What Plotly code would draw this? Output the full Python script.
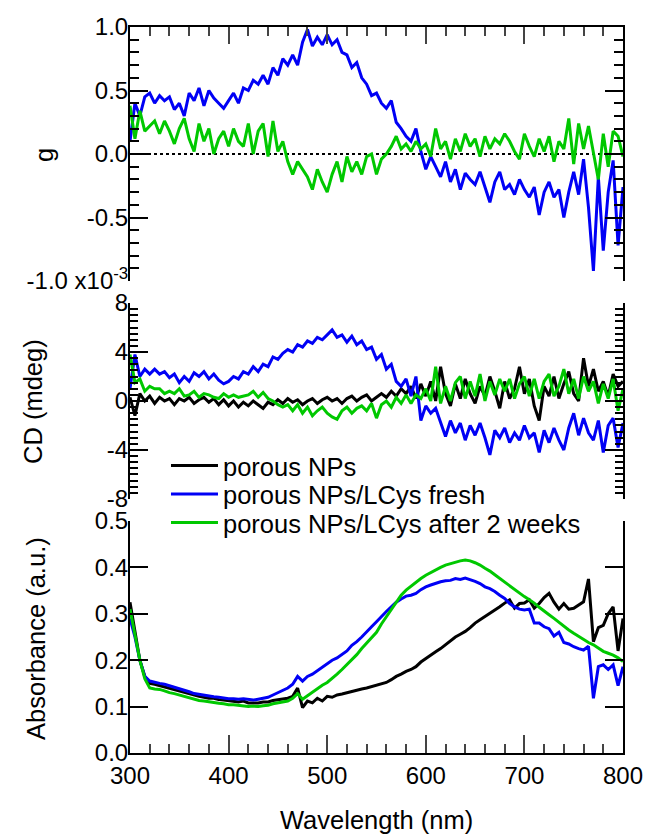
import plotly.graph_objects as go

# ---------------- data ----------------
wavelength = list(range(300, 805, 5))

g_fresh = [0.10, 0.40, 0.30, 0.45, 0.48, 0.40, 0.46, 0.42, 0.45, 0.35,
           0.40, 0.30, 0.48, 0.42, 0.52, 0.38, 0.50, 0.44, 0.40, 0.36,
           0.42, 0.48, 0.40, 0.52, 0.50, 0.58, 0.55, 0.62, 0.55, 0.68,
           0.62, 0.75, 0.70, 0.78, 0.70, 0.88, 0.98, 0.85, 0.92, 0.86,
           0.94, 0.86, 0.90, 0.80, 0.78, 0.68, 0.72, 0.60, 0.55, 0.46,
           0.48, 0.40, 0.36, 0.42, 0.25, 0.20, 0.14, 0.10, 0.20, 0.02,
           -0.12, -0.02, -0.10, -0.18, -0.06, -0.22, -0.12, -0.28, -0.15, -0.20,
           -0.24, -0.14, -0.26, -0.38, -0.22, -0.14, -0.28, -0.24, -0.32, -0.20,
           -0.28, -0.34, -0.26, -0.48, -0.30, -0.22, -0.34, -0.28, -0.50, -0.30,
           -0.14, -0.32, -0.04, -0.42, -0.92, -0.18, -0.76, -0.30, -0.05, -0.72,
           -0.26]

g_2weeks = [0.38, 0.12, 0.34, 0.18, 0.22, 0.26, 0.16, 0.26, 0.18, 0.08,
            0.20, 0.28, 0.12, 0.02, 0.24, 0.10, 0.20, 0.00, 0.12, 0.18,
            0.06, 0.20, 0.10, 0.06, 0.24, 0.00, 0.18, 0.24, -0.02, 0.26,
            0.02, 0.10, -0.06, -0.16, -0.06, -0.12, -0.18, -0.28, -0.12, -0.22,
            -0.30, -0.16, -0.06, -0.22, -0.02, -0.14, -0.06, -0.16, -0.02, 0.00,
            -0.16, -0.04, 0.00, 0.06, 0.14, 0.04, 0.08, 0.02, 0.10, 0.04,
            0.08, -0.02, 0.20, 0.04, 0.10, -0.04, 0.12, 0.02, 0.16, 0.06,
            0.12, -0.02, 0.14, 0.04, 0.12, 0.08, 0.16, 0.10, 0.02, -0.04,
            0.16, 0.06, -0.02, 0.12, 0.02, 0.14, -0.06, 0.10, 0.04, 0.28,
            -0.08, 0.24, 0.04, 0.22, 0.00, -0.20, 0.16, -0.10, 0.18, 0.14,
            -0.02]

cd_np = [0.3, -1.2, 0.6, 0.0, 0.4, -0.2, 0.3, 0.0, 0.2, -0.3,
         0.2, 0.0, 0.3, -0.2, 0.1, 0.3, -0.1, 0.2, -0.3, 0.1,
         -0.4, 0.0, -0.5, -0.1, -0.4, 0.0, -0.3, -0.6, -0.1, -0.3,
         0.1, -0.2, 0.2, -0.1, 0.1, -0.3, 0.0, 0.2, -0.2, 0.1,
         0.3, 0.0, 0.2, -0.2, 0.2, 0.4, 0.0, 0.3, 0.5, 0.0,
         0.3, 0.6, 0.3, 0.8, 0.4, 1.0, 0.6, 1.2, 0.2, 1.4,
         0.4, 1.6, 0.0, 2.8, 0.6, -0.4, 1.4, 0.2, 1.8, 0.6,
         -0.2, 1.2, 0.4, 2.0, 0.8, -0.6, 1.6, 0.2, 1.0, 2.8,
         0.6, 1.8, -0.4, -1.6, 1.2, 0.4, 2.0, 0.2, 1.4, 2.4,
         0.6, 0.0, 3.5, 1.2, 2.6, 0.8, 1.6, 0.4, 2.2, 1.2,
         1.6]

cd_fresh = [1.0, 3.8, 2.0, 2.6, 2.2, 2.6, 2.2, 2.4, 1.9, 2.2,
            1.5, 2.0, 1.6, 2.3, 2.0, 2.4, 1.8, 2.2, 1.7, 1.4,
            1.6, 2.0, 1.8, 2.4, 2.2, 2.8, 2.4, 3.0, 2.8, 3.6,
            3.4, 3.9, 4.2, 4.0, 4.6, 4.4, 4.9, 4.7, 5.2, 5.0,
            5.4, 5.8, 5.2, 5.4, 4.8, 5.3, 4.6, 4.9, 4.2, 4.4,
            3.4, 3.8, 2.6, 3.0, 1.6, 1.2, 1.8, 0.4, 2.0, -1.6,
            -0.4, -1.0, -0.6, -1.8, -2.9, -1.6, -2.6, -1.8, -3.2, -2.0,
            -2.8, -1.8, -3.0, -4.4, -2.4, -3.0, -2.2, -3.4, -2.6, -3.2,
            -2.0, -3.0, -2.6, -4.2, -2.4, -3.4, -2.2, -3.2, -4.0, -2.2,
            -1.0, -2.8, -1.4, -2.6, -3.2, -1.6, -4.2, -2.0, -1.4, -3.8,
            -1.8]

cd_2weeks = [3.8, 1.5, 1.8, 0.8, 1.2, 1.0, 1.0, 0.6, 0.8, 0.6,
             1.0, 0.4, 0.5, 0.8, 0.3, 0.6, 0.5, 0.3, 0.2, 0.6,
             0.3, 0.5, 0.3, 0.4, 0.5, 0.8, 0.3, 0.7, 0.2, 0.0,
             -0.3, -0.5, -0.3, -0.8, -0.3, -1.0, -0.5, -1.2, -0.8, -0.5,
             -1.0, -1.3, -1.5, -0.8, -0.5, -1.0, -0.6, -0.4, -0.8, -0.2,
             -1.4, -0.3, 0.0, -0.5, 0.3, -0.2, 0.5, -0.2, 0.5, 0.2,
             1.0, 0.0, 2.8, -0.2, 1.2, 0.0, 1.5, 2.0, 0.2, 1.6,
             0.4, 2.2, 0.0, 1.6, 0.5, 1.8, 0.8, 1.8, 0.2, 1.4,
             2.0, 0.4, 1.8, 0.2, 1.6, 2.2, 0.4, 1.2, 2.6, 0.6,
             1.8, 0.2, 2.0, 0.8, 1.6, -0.2, 1.4, 0.2, 1.8, -0.8,
             1.0]

abs_np = [0.325, 0.260, 0.200, 0.165, 0.150, 0.148, 0.145, 0.143, 0.140, 0.137,
          0.134, 0.130, 0.128, 0.125, 0.122, 0.120, 0.118, 0.118, 0.115, 0.114,
          0.113, 0.112, 0.110, 0.112, 0.108, 0.108, 0.108, 0.110, 0.110, 0.113,
          0.115, 0.117, 0.118, 0.122, 0.140, 0.098, 0.112, 0.108, 0.118, 0.112,
          0.122, 0.120, 0.125, 0.127, 0.130, 0.132, 0.135, 0.138, 0.140, 0.143,
          0.146, 0.148, 0.152, 0.158, 0.165, 0.170, 0.176, 0.180, 0.186, 0.196,
          0.204, 0.210, 0.218, 0.225, 0.233, 0.242, 0.250, 0.256, 0.262, 0.270,
          0.280, 0.287, 0.294, 0.300, 0.308, 0.315, 0.323, 0.330, 0.312, 0.322,
          0.323, 0.330, 0.312, 0.322, 0.335, 0.344, 0.325, 0.310, 0.322, 0.310,
          0.312, 0.320, 0.326, 0.375, 0.240, 0.270, 0.275, 0.300, 0.315, 0.220,
          0.290]

abs_fresh = [0.290, 0.250, 0.200, 0.165, 0.155, 0.152, 0.150, 0.148, 0.145, 0.142,
             0.138, 0.135, 0.132, 0.128, 0.126, 0.124, 0.122, 0.121, 0.120, 0.118,
             0.117, 0.117, 0.116, 0.117, 0.115, 0.114, 0.116, 0.118, 0.120, 0.125,
             0.130, 0.135, 0.140, 0.148, 0.165, 0.155, 0.165, 0.170, 0.178, 0.186,
             0.192, 0.200, 0.205, 0.212, 0.220, 0.232, 0.240, 0.250, 0.260, 0.272,
             0.283, 0.295, 0.305, 0.315, 0.325, 0.332, 0.338, 0.340, 0.344, 0.352,
             0.358, 0.362, 0.366, 0.369, 0.371, 0.372, 0.376, 0.374, 0.377, 0.374,
             0.370, 0.365, 0.358, 0.354, 0.348, 0.340, 0.333, 0.322, 0.315, 0.310,
             0.308, 0.310, 0.280, 0.280, 0.272, 0.268, 0.252, 0.260, 0.238, 0.235,
             0.229, 0.225, 0.222, 0.230, 0.118, 0.186, 0.190, 0.180, 0.190, 0.145,
             0.186]

abs_2weeks = [0.310, 0.255, 0.200, 0.160, 0.140, 0.138, 0.137, 0.134, 0.130, 0.128,
              0.125, 0.122, 0.120, 0.116, 0.113, 0.112, 0.110, 0.108, 0.107, 0.106,
              0.104, 0.104, 0.103, 0.102, 0.100, 0.101, 0.100, 0.102, 0.103, 0.106,
              0.108, 0.110, 0.112, 0.118, 0.128, 0.116, 0.124, 0.130, 0.140, 0.146,
              0.152, 0.160, 0.170, 0.180, 0.190, 0.200, 0.212, 0.225, 0.236, 0.248,
              0.260, 0.278, 0.294, 0.310, 0.326, 0.340, 0.351, 0.360, 0.369, 0.376,
              0.383, 0.389, 0.394, 0.400, 0.405, 0.408, 0.412, 0.414, 0.416, 0.414,
              0.410, 0.405, 0.398, 0.392, 0.384, 0.376, 0.369, 0.360, 0.351, 0.344,
              0.337, 0.330, 0.323, 0.314, 0.305, 0.298, 0.290, 0.281, 0.272, 0.265,
              0.258, 0.251, 0.244, 0.238, 0.233, 0.226, 0.219, 0.215, 0.211, 0.205,
              0.197]

series_names = ["porous NPs", "porous NPs/LCys fresh", "porous NPs/LCys after 2 weeks"]
g_ticks = [-1.0, -0.5, 0.0, 0.5, 1.0]
g_ticktext = ["-1.0 x10<sup>-3</sup>", "-0.5", "0.0", "0.5", "1.0"]
cd_ticks = [-8, -4, 0, 4, 8]
cd_ticktext = ["-8", "-4", "0", "4", "8"]

# ---------------- styling ----------------
BLACK = "#000000"
BLUE = "#0000F5"
GREEN = "#00C800"
FONT = "Liberation Sans, Arial, sans-serif"
FS = 24
LFS = 25.5
LW = 3

fig = go.Figure()

# top panel: g
fig.add_trace(go.Scatter(x=wavelength, y=g_fresh, mode="lines", line=dict(color=BLUE, width=LW),
                         xaxis="x", yaxis="y", showlegend=False))
fig.add_trace(go.Scatter(x=wavelength, y=g_2weeks, mode="lines", line=dict(color=GREEN, width=LW),
                         xaxis="x", yaxis="y", showlegend=False))

# middle panel: CD
fig.add_trace(go.Scatter(x=wavelength, y=cd_np, mode="lines", line=dict(color=BLACK, width=LW),
                         xaxis="x2", yaxis="y2", name=series_names[0], legend="legend"))
fig.add_trace(go.Scatter(x=wavelength, y=cd_fresh, mode="lines", line=dict(color=BLUE, width=LW),
                         xaxis="x2", yaxis="y2", name=series_names[1], legend="legend2"))
fig.add_trace(go.Scatter(x=wavelength, y=cd_2weeks, mode="lines", line=dict(color=GREEN, width=LW),
                         xaxis="x2", yaxis="y2", name=series_names[2], legend="legend3"))

# bottom panel: absorbance
fig.add_trace(go.Scatter(x=wavelength, y=abs_np, mode="lines", line=dict(color=BLACK, width=LW),
                         xaxis="x3", yaxis="y3", showlegend=False))
fig.add_trace(go.Scatter(x=wavelength, y=abs_fresh, mode="lines", line=dict(color=BLUE, width=LW),
                         xaxis="x3", yaxis="y3", showlegend=False))
fig.add_trace(go.Scatter(x=wavelength, y=abs_2weeks, mode="lines", line=dict(color=GREEN, width=LW),
                         xaxis="x3", yaxis="y3", showlegend=False))

common_y = dict(showline=True, linewidth=2, linecolor="black", ticks="inside", tickwidth=2,
                tickcolor="black", mirror="ticks", showgrid=False, zeroline=False,
                ticklabelstandoff=-5,
                tickfont=dict(family=FONT, size=FS, color="black"))

legend_common = dict(xanchor="left", yanchor="middle", bgcolor="rgba(0,0,0,0)",
                     font=dict(family=FONT, size=LFS, color="black"), itemwidth=47)

fig.update_layout(
    width=648, height=838,
    margin=dict(l=130, r=25, t=27, b=85, autoexpand=False),
    paper_bgcolor="white", plot_bgcolor="white",
    font=dict(family=FONT, size=FS, color="black"),
    xaxis=dict(domain=[0, 1], anchor="y", side="top", range=[300, 800],
               showline=True, linewidth=2, linecolor="black", ticks="inside", ticklen=17,
               tickwidth=2, tick0=300, dtick=100, showticklabels=False, showgrid=False,
               zeroline=False,
               minor=dict(ticks="inside", ticklen=9, tickwidth=2, tick0=300, dtick=20,
                          showgrid=False)),
    yaxis=dict(domain=[0.6501, 1.0], anchor="x", range=[-1, 1],
               tickmode="array", tickvals=g_ticks, ticktext=g_ticktext, ticklen=18,
               minor=dict(ticks="inside", ticklen=9, tickwidth=2, tickmode="linear",
                          tick0=0, dtick=0.1, showgrid=False),
               **common_y),
    xaxis2=dict(domain=[0, 1], anchor="y2", range=[300, 800], showline=False, ticks="",
                showticklabels=False, showgrid=False, zeroline=False),
    yaxis2=dict(domain=[0.3499, 0.6198], anchor="x2", range=[-8, 8],
                tickmode="array", tickvals=cd_ticks, ticktext=cd_ticktext, ticklen=18,
                minor=dict(ticks="inside", ticklen=8, tickwidth=2, tickmode="linear",
                           tick0=0, dtick=0.5, showgrid=False),
                **common_y),
    xaxis3=dict(domain=[0, 1], anchor="y3", side="bottom", range=[300, 800],
                showline=True, linewidth=2, linecolor="black", ticks="inside", ticklen=18,
                tickwidth=2, tick0=300, dtick=100, showgrid=False, zeroline=False,
                tickfont=dict(family=FONT, size=FS, color="black"),
                minor=dict(ticks="inside", ticklen=9, tickwidth=2, tick0=300, dtick=20,
                           showgrid=False)),
    yaxis3=dict(domain=[0, 0.3196], anchor="x3", range=[0, 0.5], dtick=0.1, tick0=0,
                tickformat=".1f", ticklen=18, **common_y),
    legend=dict(x=0.073, y=0.3953, **legend_common),
    legend2=dict(x=0.073, y=0.3561, **legend_common),
    legend3=dict(x=0.073, y=0.3168, **legend_common),
)

# dotted zero reference line in the g panel
fig.add_shape(type="line", xref="x domain", yref="y", x0=0, x1=1, y0=0, y1=0,
              line=dict(color="black", width=2, dash="dot"), layer="below")

# axis titles
title_font = dict(family=FONT, size=LFS, color="black")
fig.add_annotation(text="g", xref="paper", yref="paper", x=-0.1744, y=0.8237, textangle=-90,
                   xanchor="center", yanchor="middle", showarrow=False, font=title_font)
fig.add_annotation(text="CD (mdeg)", xref="paper", yref="paper", x=-0.1968, y=0.4848,
                   textangle=-90, xanchor="center", yanchor="middle", showarrow=False,
                   font=title_font)
fig.add_annotation(text="Absorbance (a.u.)", xref="paper", yref="paper", x=-0.1907, y=0.1584,
                   textangle=-90, xanchor="center", yanchor="middle", showarrow=False,
                   font=title_font)
fig.add_annotation(text="Wavelength (nm)", xref="paper", yref="paper", x=0.5, y=-0.0923,
                   xanchor="center", yanchor="middle", showarrow=False, font=title_font)

fig.write_html("out.html")
